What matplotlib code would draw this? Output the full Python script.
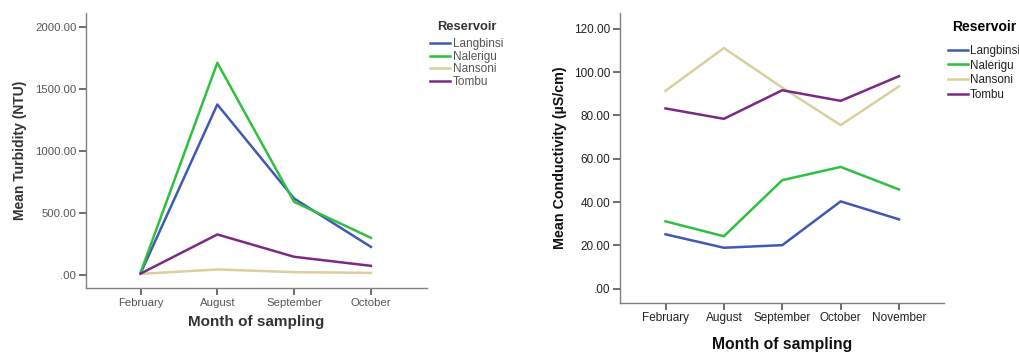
import matplotlib
matplotlib.use("Agg")
import matplotlib.pyplot as plt
from matplotlib.ticker import FuncFormatter

plt.rcParams['font.family'] = ['Liberation Sans', 'DejaVu Sans']

reservoirs = ["Langbinsi", "Nalerigu", "Nansoni", "Tombu"]
colors = ["#3f5ab2", "#2fc03f", "#d9d09e", "#7a2a84"]

turb_months = ["February", "August", "September", "October"]
turb_langbinsi = [14, 1376, 618, 228]
turb_nalerigu = [20, 1712, 591, 301]
turb_nansoni = [10, 46, 24, 18]
turb_tombu = [12, 328, 148, 75]

cond_months = ["February", "August", "September", "October", "November"]
cond_langbinsi = [25.1, 18.9, 20.1, 40.3, 32.0]
cond_nalerigu = [31.1, 24.2, 50.1, 56.2, 45.8]
cond_nansoni = [91.3, 111.1, 92.8, 75.5, 93.4]
cond_tombu = [83.2, 78.4, 91.6, 86.7, 98.1]

turb_yticks = [0, 500, 1000, 1500, 2000]
cond_yticks = [0, 20, 40, 60, 80, 100, 120]


def fmt(v, pos):
    s = "%.2f" % v
    if s.startswith("0."):
        s = s[1:]
    return s


fig = plt.figure(figsize=(10.19, 3.54), dpi=100)
ax1 = fig.add_axes([0.0844, 0.186, 0.3346, 0.777])
ax2 = fig.add_axes([0.6084, 0.145, 0.318, 0.818])

spine_col = "#808080"

def style(ax, months, yticks, ylim, xlim, tick_fs, tick_col):
    for s in ["top", "right"]:
        ax.spines[s].set_visible(False)
    for s in ["left", "bottom"]:
        ax.spines[s].set_color(spine_col)
        ax.spines[s].set_linewidth(1.0)
    ax.set_xticks(range(len(months)))
    ax.set_xticklabels(months)
    ax.set_yticks(yticks)
    ax.yaxis.set_major_formatter(FuncFormatter(fmt))
    ax.set_ylim(*ylim)
    ax.set_xlim(*xlim)
    ax.tick_params(axis="both", direction="out", length=5, width=1.2,
                   color="#555555", labelsize=tick_fs, labelcolor=tick_col, pad=2)

series1 = [turb_langbinsi, turb_nalerigu, turb_nansoni, turb_tombu]
for name, c, vals in zip(reservoirs, colors, series1):
    ax1.plot(range(len(turb_months)), vals, color=c, lw=1.8, label=name)
style(ax1, turb_months, turb_yticks, (-105, 2113), (-0.71, 3.73), 8.2, "#555555")
ax1.set_xlabel("Month of sampling", fontsize=11, fontweight="bold", color="#333333", labelpad=5)
ax1.set_ylabel("Mean Turbidity (NTU)", fontsize=10, fontweight="bold", color="#333333", labelpad=6)

series2 = [cond_langbinsi, cond_nalerigu, cond_nansoni, cond_tombu]
for name, c, vals in zip(reservoirs, colors, series2):
    ax2.plot(range(len(cond_months)), vals, color=c, lw=1.8, label=name)
style(ax2, cond_months, cond_yticks, (-6.45, 127.2), (-0.78, 4.77), 8.5, "#222222")
ax2.set_xlabel("Month of sampling", fontsize=11.3, fontweight="bold", color="#111111", labelpad=9)
ax2.set_ylabel("Mean Conductivity (µS/cm)", fontsize=10.3, fontweight="bold", color="#111111", labelpad=5)

leg1 = ax1.legend(title="Reservoir", frameon=False, loc="upper left",
                  bbox_to_anchor=(0.414, 0.965), bbox_transform=fig.transFigure,
                  fontsize=8.5, title_fontproperties={"weight": "bold", "size": 9.3},
                  handlelength=1.7, handletextpad=0.2, labelspacing=0.05, borderpad=0.2)
for t in leg1.get_texts():
    t.set_color("#555555")
leg1.get_title().set_color("#333333")
leg1._legend_box.sep = 4

leg2 = ax2.legend(title="Reservoir", frameon=False, loc="upper left",
                  bbox_to_anchor=(0.922, 0.966), bbox_transform=fig.transFigure,
                  fontsize=8.4, title_fontproperties={"weight": "bold", "size": 10},
                  handlelength=1.7, handletextpad=0.2, labelspacing=0.25, borderpad=0.2)
for t in leg2.get_texts():
    t.set_color("#222222")
leg2._legend_box.sep = 7.5

fig.savefig("out.png", dpi=100)
